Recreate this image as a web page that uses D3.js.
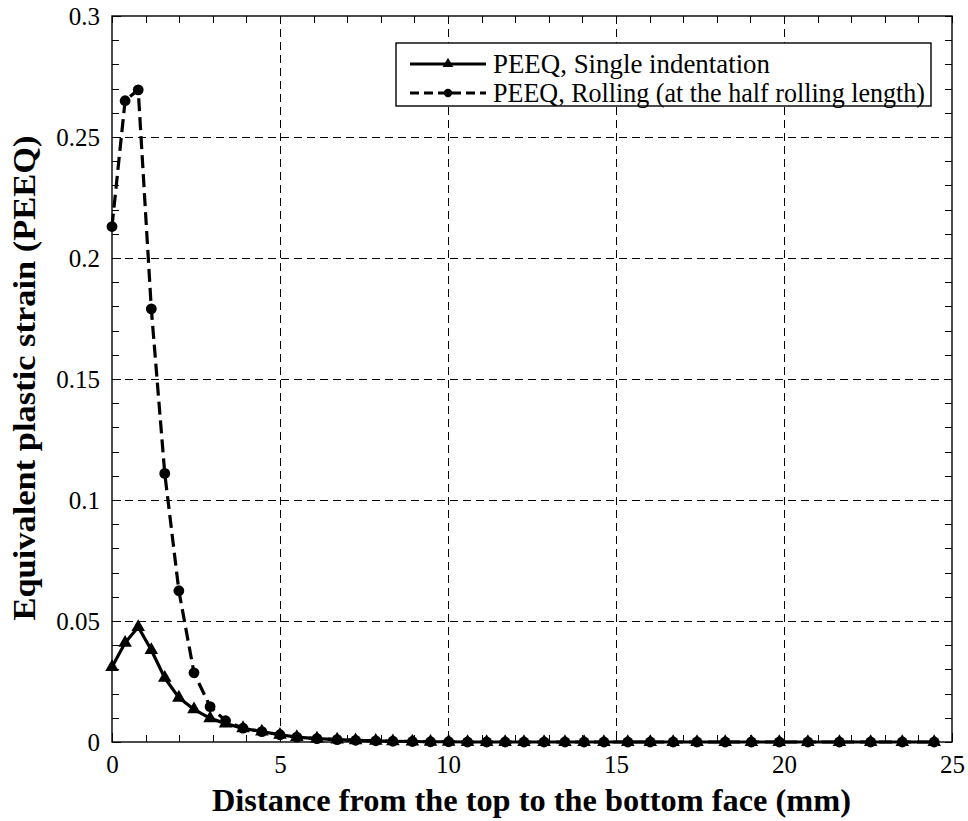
<!DOCTYPE html>
<html><head><meta charset="utf-8">
<script src="https://cdn.jsdelivr.net/npm/d3@7/dist/d3.min.js"></script>
</head><body style="margin:0;background:#fff"><svg id="chart" width="968" height="821" style="display:block"></svg>
<script>
const depth = [0, 0.39, 0.78, 1.17, 1.57, 1.99, 2.44, 2.92, 3.38, 3.9, 4.46, 5.0, 5.5, 6.1, 6.7, 7.25, 7.85, 8.36, 8.94, 9.48, 10.02, 10.58, 11.15, 11.7, 12.26, 12.86, 13.48, 14.05, 14.64, 15.35, 16.02, 16.7, 17.41, 18.25, 19.03, 19.86, 20.71, 21.65, 22.58, 23.52, 24.47];
const peeqSingle = [0.031, 0.041, 0.0475, 0.038, 0.0265, 0.0183, 0.0135, 0.0098, 0.0076, 0.0057, 0.0043, 0.003, 0.002, 0.0014, 0.001, 0.0007, 0.0005, 0.0003, 0.0002, 0.0001, 0.0001, 0, 0, 0, 0, 0, 0, 0, 0, 0, 0, 0, 0, 0, 0, 0, 0, 0, 0, 0, 0];
const peeqRolling = [0.213, 0.265, 0.2695, 0.179, 0.111, 0.0625, 0.0286, 0.0146, 0.0088, 0.0057, 0.0043, 0.003, 0.002, 0.0014, 0.001, 0.0007, 0.0005, 0.0003, 0.0002, 0.0001, 0.0001, 0, 0, 0, 0, 0, 0, 0, 0, 0, 0, 0, 0, 0, 0, 0, 0, 0, 0, 0, 0];
const xTicks = [0, 5, 10, 15, 20, 25];
const yTicks = [0, 0.05, 0.1, 0.15, 0.2, 0.25, 0.3];
const yTickLabels = ["0", "0.05", "0.1", "0.15", "0.2", "0.25", "0.3"];
const seriesNames = ["PEEQ, Single indentation", "PEEQ, Rolling (at the half rolling length)"];
const xTitle = "Distance from the top to the bottom face (mm)";
const yTitle = "Equivalent plastic strain (PEEQ)";

const FONT = "'Liberation Serif', 'Times New Roman', serif";
const L = 112, R = 952, T = 16, B = 742;
const svg = d3.select("#chart");
const x = d3.scaleLinear().domain([0, 25]).range([L, R]);
const y = d3.scaleLinear().domain([0, 0.3]).range([B, T]);

// grid
svg.append("g").selectAll("line").data(xTicks.slice(1, -1)).join("line")
  .attr("x1", d => x(d)).attr("x2", d => x(d)).attr("y1", T).attr("y2", B)
  .attr("stroke", "#000").attr("stroke-width", 1).attr("stroke-dasharray", "8,5").attr("shape-rendering", "crispEdges");
svg.append("g").selectAll("line").data(yTicks.slice(1, -1)).join("line")
  .attr("y1", d => y(d)).attr("y2", d => y(d)).attr("x1", L).attr("x2", R)
  .attr("stroke", "#000").attr("stroke-width", 1).attr("stroke-dasharray", "8,5").attr("shape-rendering", "crispEdges");

// minor/major inward ticks
const xMinor = d3.range(0, 26, 1);
const yMinor = d3.range(0, 0.3001, 0.01);
function axisG(gen, tx, ty) {
  const a = svg.append("g").attr("transform", `translate(${tx},${ty})`).call(gen);
  a.select(".domain").remove();
  a.selectAll("line").attr("stroke", "#000").attr("shape-rendering", "crispEdges");
  return a;
}
axisG(d3.axisBottom(x).tickValues(xMinor).tickSize(-7).tickFormat(""), 0, B);
axisG(d3.axisTop(x).tickValues(xMinor).tickSize(-7).tickFormat(""), 0, T);
axisG(d3.axisLeft(y).tickValues(yMinor).tickSize(-7).tickFormat(""), L, 0);
axisG(d3.axisRight(y).tickValues(yMinor).tickSize(-7).tickFormat(""), R, 0);

const xa = axisG(d3.axisBottom(x).tickValues(xTicks).tickSize(-9).tickPadding(12).tickFormat(d3.format("d")), 0, B);
xa.attr("font-family", FONT).attr("font-size", 25);
xa.selectAll("text").attr("fill", "#000").attr("dy", "0.75em");
const ya = axisG(d3.axisLeft(y).tickValues(yTicks).tickSize(-9).tickPadding(12).tickFormat((d, i) => yTickLabels[i]), L, 0);
ya.attr("font-family", FONT).attr("font-size", 25);
ya.selectAll("text").attr("fill", "#000");

// frame
svg.append("rect").attr("x", L).attr("y", T).attr("width", R - L).attr("height", B - T)
  .attr("fill", "none").attr("stroke", "#000").attr("stroke-width", 1.4);

// series
const rows = depth.map((d, i) => ({ d, s: peeqSingle[i], r: peeqRolling[i] }));
const lineS = d3.line().x(p => x(p.d)).y(p => y(p.s));
const lineR = d3.line().x(p => x(p.d)).y(p => y(p.r));
svg.append("path").datum(rows).attr("d", lineS).attr("fill", "none").attr("stroke", "#000").attr("stroke-width", 3.2);
svg.append("path").datum(rows).attr("d", lineR).attr("fill", "none").attr("stroke", "#000").attr("stroke-width", 3.2).attr("stroke-dasharray", "13,6");
const tri = d3.symbol().type(d3.symbolTriangle).size(80);
svg.append("g").selectAll("path").data(rows).join("path")
  .attr("d", tri).attr("transform", p => `translate(${x(p.d)},${y(p.s)})`).attr("fill", "#000");
svg.append("g").selectAll("circle").data(rows).join("circle")
  .attr("cx", p => x(p.d)).attr("cy", p => y(p.r)).attr("r", 5.4).attr("fill", "#000");

// legend
const lg = svg.append("g");
lg.append("rect").attr("x", 396).attr("y", 43).attr("width", 535).attr("height", 63)
  .attr("fill", "#fff").attr("stroke", "#000").attr("stroke-width", 1.4);
const legY = [64, 93];
lg.append("line").attr("x1", 410).attr("x2", 486).attr("y1", legY[0]).attr("y2", legY[0]).attr("stroke", "#000").attr("stroke-width", 3.2);
lg.append("path").attr("d", d3.symbol().type(d3.symbolTriangle).size(50)).attr("transform", `translate(448,${legY[0]})`);
lg.append("line").attr("x1", 410).attr("x2", 486).attr("y1", legY[1]).attr("y2", legY[1]).attr("stroke", "#000").attr("stroke-width", 3.2).attr("stroke-dasharray", "9,5");
lg.append("circle").attr("cx", 448).attr("cy", legY[1]).attr("r", 4.2).attr("fill", "#000");
const legW = [277, 432];
seriesNames.forEach((n, i) => {
  lg.append("text").attr("x", 493).attr("y", legY[i] + 9)
    .attr("font-family", FONT).attr("font-size", 27)
    .attr("textLength", legW[i]).attr("lengthAdjust", "spacingAndGlyphs").text(n);
});

// titles
svg.append("text").attr("x", (212 + 851) / 2).attr("y", 811).attr("text-anchor", "middle")
  .attr("font-family", FONT).attr("font-size", 32).attr("font-weight", "bold")
  .attr("textLength", 639).attr("lengthAdjust", "spacingAndGlyphs").text(xTitle);
svg.append("text").attr("transform", "translate(35,378) rotate(-90)").attr("text-anchor", "middle")
  .attr("font-family", FONT).attr("font-size", 32).attr("font-weight", "bold")
  .attr("textLength", 485).attr("lengthAdjust", "spacingAndGlyphs").text(yTitle);
</script></body></html>
